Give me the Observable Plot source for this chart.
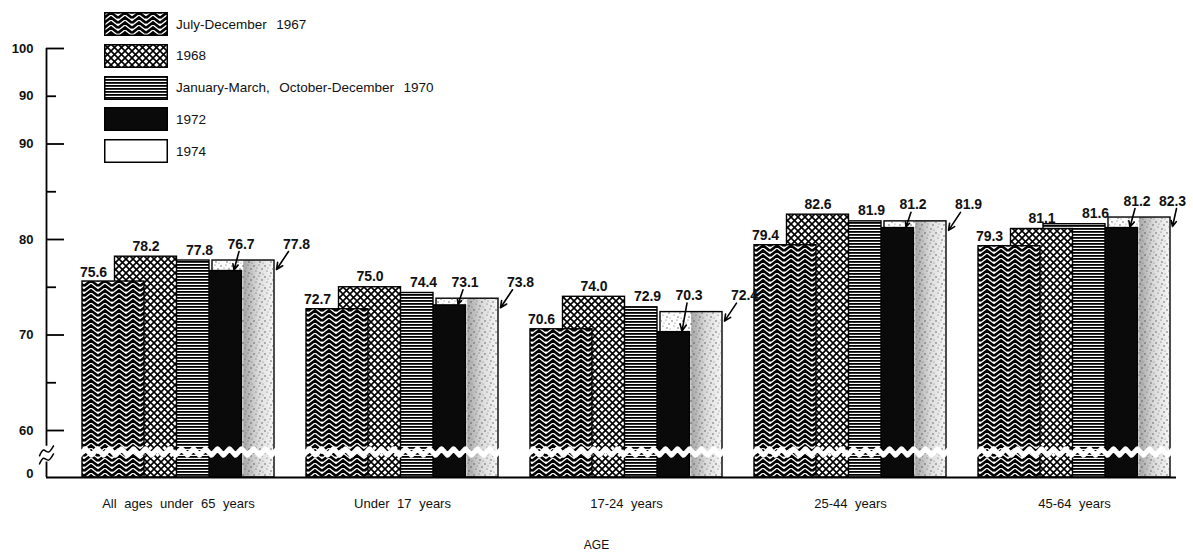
<!DOCTYPE html>
<html>
<head>
<meta charset="utf-8">
<script src="https://cdn.jsdelivr.net/npm/d3@7"></script>
<script src="https://cdn.jsdelivr.net/npm/@observablehq/plot@0.6"></script>
<style>
  html, body { margin: 0; padding: 0; background: white; }
  #wrap { position: relative; width: 1193px; height: 556px; }
  #legend { position: absolute; left: 104px; top: 12px; font-family: "Liberation Sans", Arial, sans-serif; font-size: 13.5px; color: #111; word-spacing: 1px; }
  .row { position: absolute; left: 0; height: 24px; display: flex; align-items: center; white-space: pre; }
  .row svg { display: block; margin-right: 8px; }
  g[aria-label="x-axis tick label"] text { word-spacing: 4px; }
</style>
</head>
<body>
<svg width="0" height="0" style="position:absolute">
  <defs>
    <pattern id="pz" width="14" height="5" patternUnits="userSpaceOnUse">
      <rect width="14" height="5" fill="white"/>
      <path d="M0,6 L7,0.5 L14,6 M0,1 L7,-4.5 L14,1 M0,11 L7,5.5 L14,11" stroke="black" stroke-width="2.6" fill="none"/>
    </pattern>
    <pattern id="pc" width="7" height="7" patternUnits="userSpaceOnUse">
      <rect width="7" height="7" fill="white"/>
      <path d="M-1,-1 L8,8 M-1,8 L8,-1" stroke="black" stroke-width="1.6" fill="none"/>
    </pattern>
    <pattern id="ph" width="8" height="3" patternUnits="userSpaceOnUse">
      <rect width="8" height="3" fill="white"/>
      <rect width="8" height="1.8" fill="black"/>
    </pattern>
    <pattern id="ps" width="11" height="11" patternUnits="userSpaceOnUse">
      <circle cx="1" cy="2" r="0.7" fill="#444"/>
      <circle cx="6" cy="1" r="0.6" fill="#555"/>
      <circle cx="9" cy="5" r="0.7" fill="#444"/>
      <circle cx="3" cy="7" r="0.6" fill="#555"/>
      <circle cx="7" cy="9" r="0.7" fill="#444"/>
      <circle cx="4" cy="4" r="0.5" fill="#666"/>
      <circle cx="10" cy="10" r="0.5" fill="#666"/>
    </pattern>
    <linearGradient id="gs" x1="0" x2="1" y1="0" y2="0">
      <stop offset="0" stop-color="#ffffff"/>
      <stop offset="0.5" stop-color="#ffffff"/>
      <stop offset="0.51" stop-color="#a8a8a8"/>
      <stop offset="0.75" stop-color="#dcdcdc"/>
      <stop offset="1" stop-color="#f6f6f6"/>
    </linearGradient>
  </defs>
</svg>
<div id="wrap"><div id="legend"></div></div>
<script>
// ---------------- data ----------------
const ages = ["All ages under 65 years", "Under 17 years", "17-24 years", "25-44 years", "45-64 years"];
const seriesNames = ["July-December  1967", "1968", "January-March,  October-December  1970", "1972", "1974"];
const v1967 = [75.6, 72.7, 70.6, 79.4, 79.3];
const v1968 = [78.2, 75.0, 74.0, 82.6, 81.1];
const v1970 = [77.8, 74.4, 72.9, 81.9, 81.6];
const v1972 = [76.7, 73.1, 70.3, 81.2, 81.2];
const v1974 = [77.8, 73.8, 72.4, 81.9, 82.3];
const yTickValues = [100, 95, 90, 85, 80, 75, 70, 65, 60];
const yTickLabels = ["100", "90", "90", "", "80", "", "70", "", "60"];
const yMajorTicks = [100, 90, 80, 70, 60];
const zeroLabel = "0";
const xLabel = "AGE";

// ---------------- styling / geometry ----------------
const seriesValues = [v1967, v1968, v1970, v1972, v1974];
const fills = ["url(#pz)", "url(#pc)", "url(#ph)", "#0a0a0a", "url(#gs)"];
const W = 1193, H = 556;
const mL = 46, mR = 17, mT = 48, mB = 79;
const PXU = 1 / 224;                 // x units per pixel (group spacing = 1 unit)
const X0 = (mL - 178) * PXU, X1 = (W - mR - 178) * PXU;
const yBase = 55.08;                 // broken-axis baseline ("0")
const PY = (100 - yBase) / (H - mB - mT);   // y units per pixel
const step = 32.5 * PXU, barW = 62 * PXU, half = 96 * PXU;

const bars = [];
seriesValues.forEach((vals, s) => vals.forEach((v, g) => {
  const x1 = g - half + s * step;
  bars.push({g, s, v, x1, x2: x1 + barW});
}));
const barOf = (g, s) => bars.find(b => b.g === g && b.s === s);

// value labels and arrows
const labels = [], arrows = [];
ages.forEach((a, g) => {
  const b0 = barOf(g, 0), b1 = barOf(g, 1), b2 = barOf(g, 2), b3 = barOf(g, 3), b4 = barOf(g, 4);
  labels.push({x: b0.x1 + 11 * PXU, y: b0.v + 5 * PY, t: b0.v.toFixed(1)});
  labels.push({x: (b1.x1 + b1.x2) / 2, y: b1.v + 6 * PY, t: b1.v.toFixed(1)});
  labels.push({x: b2.x1 + 52 * PXU, y: b2.v + 6 * PY, t: b2.v.toFixed(1)});
  const top34 = Math.max(b3.v, b4.v);
  const l3x = b3.x1 + 61 * PXU, l3y = top34 + 12 * PY;
  labels.push({x: l3x, y: l3y, t: b3.v.toFixed(1)});
  arrows.push({x1: l3x - 2 * PXU, y1: l3y - 3 * PY, x2: b3.x2 - 8 * PXU, y2: b3.v + 1 * PY});
  const l4x = Math.min(b4.x2 + 22 * PXU, (1172 - 178) * PXU), l4y = b4.v + 12 * PY;
  labels.push({x: l4x, y: l4y, t: b4.v.toFixed(1)});
  arrows.push({x1: Math.max(l4x - 8 * PXU, b4.x2 + 6 * PXU), y1: b4.v + 9 * PY, x2: b4.x2 + 2 * PXU, y2: b4.v - 9 * PY});
});

// decorative white zig-zag break through each group of bars
const breakPts = [];
const yBreak = 57.75, amp = 3.2 * PY;
ages.forEach((a, g) => {
  const xs = barOf(g, 0).x1 - 3 * PXU, xe = barOf(g, 4).x2 + 3 * PXU;
  let k = 0;
  for (let x = xs; x <= xe + 1e-9; x += 6 * PXU, k++) breakPts.push({g, x, y: yBreak + (k % 2 ? amp : -amp)});
});

// axis break squiggles
const squig = [];
[57.35, 56.5].forEach((y0, i) => {
  [[-7, 0], [-3, 0.6], [2, 0.4], [7, 1.05]].forEach(([dx, dy]) => squig.push({i, x: X0 + dx * PXU, y: y0 + dy}));
});
const axisSegs = [{a: 58.35, b: 100}, {a: yBase, b: 56.7}];

const marks = [];
// bars, later series underneath
for (let s = 4; s >= 0; s--) {
  const d = bars.filter(b => b.s === s);
  marks.push(Plot.rect(d, {x1: "x1", x2: "x2", y1: () => yBase, y2: "v", fill: fills[s], stroke: "black", strokeWidth: 1.4}));
  if (s === 4) marks.push(Plot.rect(d, {x1: "x1", x2: "x2", y1: () => yBase, y2: "v", fill: "url(#ps)"}));
}
marks.push(
  Plot.line(breakPts, {x: "x", y: "y", z: "g", stroke: "white", strokeWidth: 5}),
  Plot.ruleY([yBase], {stroke: "black", strokeWidth: 2}),
  Plot.ruleX(axisSegs, {x: () => X0, y1: "a", y2: "b", stroke: "black", strokeWidth: 1.8}),
  Plot.line(squig, {x: "x", y: "y", z: "i", curve: "natural", stroke: "black", strokeWidth: 1.5}),
  Plot.ruleY(yTickValues, {y: d => d, x1: () => X0, x2: d => X0 + (yMajorTicks.includes(d) ? 18 : 10) * PXU, stroke: "black", strokeWidth: 1.8}),
  Plot.axisY({ticks: yTickValues, tickFormat: d => yTickLabels[yTickValues.indexOf(d)], tickSize: 0, tickPadding: 13, fontSize: 13, fontWeight: "bold", label: null}),
  Plot.text([zeroLabel], {x: () => X0, y: () => yBase, text: d => d, textAnchor: "end", dx: -13, dy: -4, fontSize: 13, fontWeight: "bold"}),
  Plot.axisX({ticks: ages.map((a, i) => i), tickFormat: i => ages[i], tickSize: 0, tickPadding: 21, fontSize: 13, label: null}),
  Plot.text([xLabel], {frameAnchor: "bottom", text: d => d, dy: 71, dx: -15, fontSize: 12}),
  Plot.arrow(arrows, {x1: "x1", y1: "y1", x2: "x2", y2: "y2", stroke: "black", strokeWidth: 1.6, headLength: 7, headAngle: 50}),
  Plot.text(labels, {x: "x", y: "y", text: "t", lineAnchor: "bottom", fontSize: 14, fontWeight: "bold"})
);

const svg = Plot.plot({
  width: W, height: H,
  marginLeft: mL, marginRight: mR, marginTop: mT, marginBottom: mB,
  x: {domain: [X0, X1]},
  y: {domain: [yBase, 100]},
  style: {fontFamily: "'Liberation Sans', Arial, sans-serif", background: "white", color: "#111", overflow: "visible"},
  marks
});
document.getElementById("wrap").prepend(svg);

// legend
const legend = document.getElementById("legend");
seriesNames.forEach((name, s) => {
  const row = document.createElement("div");
  row.className = "row";
  row.style.top = (s * 31.75) + "px";
  const f = s === 4 ? "white" : fills[s];
  row.innerHTML = `<svg width="64" height="24"><rect x="0.75" y="0.75" width="62.5" height="22.5" fill="${f}" stroke="black" stroke-width="1.5"/></svg><span>${name}</span>`;
  legend.appendChild(row);
});
</script>
</body>
</html>
